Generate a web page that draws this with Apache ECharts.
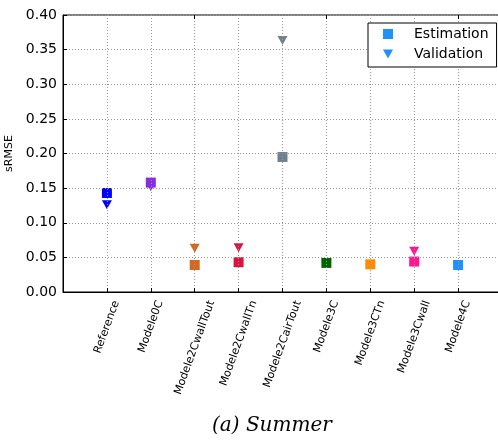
<!DOCTYPE html>
<html><head><meta charset="utf-8">
<script src="https://cdn.jsdelivr.net/npm/echarts@6/dist/echarts.min.js"></script>
<style>html,body{margin:0;padding:0;background:#fff}#c{width:498px;height:441px}</style>
</head><body><div id="c"></div>
<script>
const models = ['Reference','Modele0C','Modele2CwallTout','Modele2CwallTn','Modele2CairTout','Modele3C','Modele3CTn','Modele3Cwall','Modele4C'];
const modelColors = ['#0000ff','#8a2be2','#d2691e','#dc143c','#708090','#006400','#ff8c00','#ff1493','#1e90ff'];
const estimation = [0.143,0.158,0.039,0.043,0.195,0.042,0.040,0.044,0.039];
const validation = [0.126,0.152,0.063,0.064,0.363,0.041,0.039,0.059,0.038];
const yTickLabels = ['0.00','0.05','0.10','0.15','0.20','0.25','0.30','0.35','0.40'];
const seriesNames = ['Estimation','Validation'];
const titleText = '(a) Summer';

const FONT = 'DejaVu Sans';
const ctx = document.createElement('canvas').getContext('2d');
ctx.font = '11px "DejaVu Sans"';
const th = 70 * Math.PI / 180, hText = 12;
function labelItem(name) {
  if (!name.trim()) return { value: name };
  const L = ctx.measureText(name).width;
  const D = (L * Math.sin(th) + hText * Math.cos(th)) / 2;
  return { value: name, textStyle: {
    align: 'center', verticalAlign: 'top', fontSize: 11, fontFamily: FONT, color: '#000',
    lineHeight: 2 * D * Math.cos(th),
    padding: [0, 2 * D * Math.sin(th), 0, 0] } };
}
const cats = [' '].concat(models).concat(['  ']);
const catData = cats.map(labelItem);

const gridLine = { show: true, lineStyle: { color: '#999', type: [1, 2], width: 1 } };
const chart = echarts.init(document.getElementById('c'), null, { renderer: 'canvas' });
chart.setOption({
  animation: false,
  backgroundColor: '#fff',
  title: {
    text: titleText, left: 212, top: 414, padding: 0,
    textStyle: { fontFamily: 'DejaVu Serif', fontStyle: 'italic', fontWeight: 'normal', fontSize: 20, color: '#000', lineHeight: 24 }
  },
  legend: {
    data: [{ name: seriesNames[0], icon: 'rect' }, { name: seriesNames[1], icon: 'path://M0,0 L10,0 L5,9 Z' }],
    orient: 'vertical', left: 368, top: 23,
    padding: [3, 8, 5, 15], itemGap: 4, itemWidth: 10, itemHeight: 10,
    borderColor: '#000', borderWidth: 1, backgroundColor: '#fff', borderRadius: 0,
    textStyle: { fontFamily: FONT, fontSize: 14, color: '#000', lineHeight: 16, padding: [0, 0, 0, 16] },
    z: 10
  },
  grid: { left: 63, top: 15, width: 439, height: 277, show: true, borderColor: '#000', borderWidth: 1, containLabel: false, outerBoundsMode: 'none' },
  xAxis: [{
    type: 'category', data: catData, boundaryGap: false, z: 5,
    axisLine: { show: true, lineStyle: { color: '#000', width: 1 } },
    axisTick: { show: true, inside: true, length: 4, lineStyle: { color: '#000' } },
    axisLabel: { interval: 0, rotate: 70, margin: 7, fontSize: 11, fontFamily: FONT, color: '#000' },
    splitLine: gridLine
  }, {
    type: 'category', data: cats, boundaryGap: false, position: 'top', z: 5,
    axisLine: { show: false },
    axisTick: { show: true, inside: true, length: 4, lineStyle: { color: '#000' } },
    axisLabel: { show: false }, splitLine: { show: false }
  }],
  yAxis: {
    type: 'value', min: 0, max: 0.4, interval: 0.05, z: 5,
    axisLine: { show: true, lineStyle: { color: '#000', width: 1 } },
    axisTick: { show: true, inside: true, length: 4, lineStyle: { color: '#000' } },
    axisLabel: { formatter: (v) => yTickLabels[Math.round(v / 0.05)], fontSize: 14, margin: 6, color: '#000', fontFamily: FONT },
    splitLine: gridLine,
    name: 'sRMSE', nameLocation: 'middle', nameGap: 39,
    nameTextStyle: { fontSize: 11, color: '#000', fontFamily: FONT }
  },
  series: [{
    name: 'Validation', type: 'scatter', symbol: 'triangle', symbolRotate: 180, symbolSize: [10, 9], z: 1,
    itemStyle: { color: '#1e90ff', opacity: 1 },
    emphasis: { disabled: true },
    data: validation.map((v, i) => ({ value: [i + 1, v], itemStyle: { color: modelColors[i] } }))
  }, {
    name: 'Estimation', type: 'scatter', symbol: 'rect', symbolSize: 10, z: 2,
    itemStyle: { color: '#1e90ff', opacity: 1 },
    emphasis: { disabled: true },
    data: estimation.map((v, i) => ({ value: [i + 1, v], itemStyle: { color: modelColors[i] } }))
  }]
});
</script></body></html>
